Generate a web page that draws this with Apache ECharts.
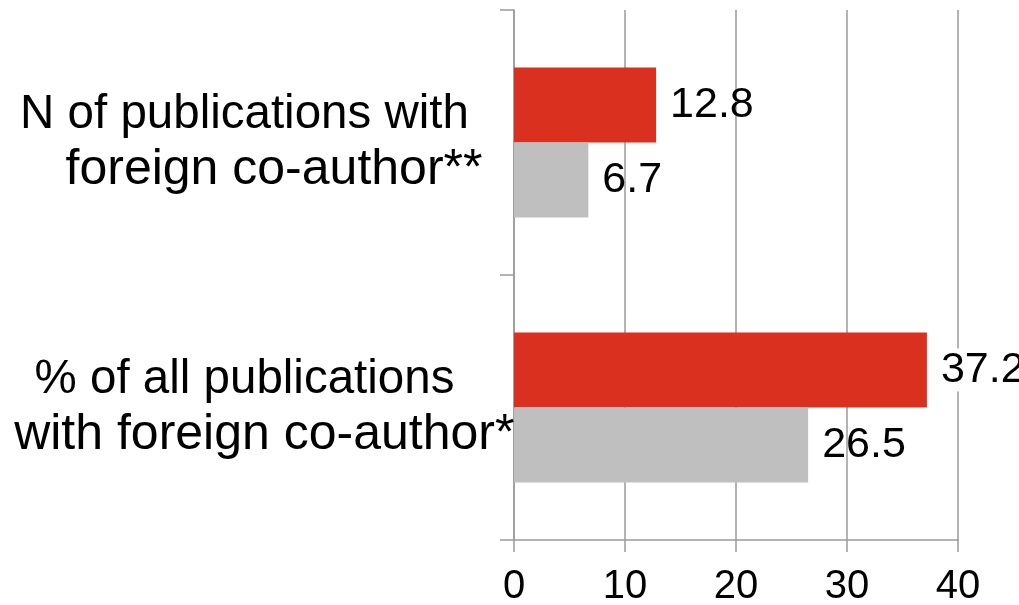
<!DOCTYPE html>
<html>
<head>
<meta charset="utf-8">
<script src="https://cdn.jsdelivr.net/npm/echarts@6/dist/echarts.min.js"></script>
<style>
  html, body { margin: 0; padding: 0; background: #ffffff; }
  #chart { width: 1019px; height: 605px; }
</style>
</head>
<body>
<div id="chart"></div>
<script>
// Category labels (top to bottom); trailing asterisks are drawn as a separate mark
const categories = [
  'N of publications with\nforeign co-author**',
  '% of all publications\nwith foreign co-author**'
];
// Series values
const redValues = [12.8, 37.2];
const grayValues = [6.7, 26.5];
// Value axis ticks
const axisMin = 0;
const axisMax = 40;
const axisStep = 10;

const FONT = '"Liberation Sans", Arial, Helvetica, sans-serif';
const AXIS_GREY = '#9a9a9a';

const chart = echarts.init(document.getElementById('chart'), null, { renderer: 'canvas' });

function categoryLabel(name) {
  const lines = name.split('\n');
  const tail = lines[1];
  const text = tail.replace(/\*+$/, '');
  const stars = tail.slice(text.length);
  return '{a|' + lines[0] + '}{q| }\n{p| }{b|' + text + '}{s|' + stars + '}';
}

// The widest red value label sits on the last grid line; give it a white backing
const maxRed = Math.max(...redValues);
const redData = redValues.map(v => v === maxRed
  ? { value: v, label: { backgroundColor: '#ffffff' } }
  : v);

const valueLabel = {
  show: true,
  position: 'right',
  distance: 14,
  color: '#000',
  fontFamily: FONT,
  fontSize: 43
};

chart.setOption({
  animation: false,
  backgroundColor: '#ffffff',
  grid: {
    left: 514,
    right: 61,
    top: 10,
    bottom: 65,
    outerBoundsMode: 'none'
  },
  xAxis: {
    type: 'value',
    min: axisMin,
    max: axisMax,
    interval: axisStep,
    axisLine: { show: true, lineStyle: { color: AXIS_GREY, width: 1.5 } },
    axisTick: { show: true, length: 12, lineStyle: { color: AXIS_GREY, width: 1.5 } },
    splitLine: { show: true, lineStyle: { color: AXIS_GREY, width: 1.5 } },
    axisLabel: {
      color: '#000',
      fontFamily: FONT,
      fontSize: 40,
      margin: 27
    }
  },
  yAxis: {
    type: 'category',
    inverse: true,
    data: categories,
    axisLine: { show: true, lineStyle: { color: AXIS_GREY, width: 1.5 } },
    axisTick: { show: true, length: 14, lineStyle: { color: AXIS_GREY, width: 1.5 } },
    splitLine: { show: false },
    axisLabel: {
      align: 'center',
      margin: 259,
      color: '#000',
      fontFamily: FONT,
      formatter: categoryLabel,
      rich: {
        a: { fontFamily: FONT, fontSize: 47.5, lineHeight: 56, color: '#000' },
        q: { width: 21, fontSize: 47.5, lineHeight: 56 },
        p: { width: 38, fontSize: 50, lineHeight: 56 },
        b: { fontFamily: FONT, fontSize: 50, lineHeight: 56, color: '#000' },
        s: { fontFamily: FONT, fontSize: 50, lineHeight: 56, color: '#000' }
      }
    }
  },
  series: [
    {
      name: 'red',
      type: 'bar',
      data: redData,
      barWidth: 75,
      barGap: '0%',
      itemStyle: { color: '#da301f' },
      label: valueLabel
    },
    {
      name: 'gray',
      type: 'bar',
      data: grayValues,
      barWidth: 75,
      barGap: '0%',
      itemStyle: { color: '#bfbfbf' },
      label: valueLabel
    }
  ]
});
</script>
</body>
</html>
